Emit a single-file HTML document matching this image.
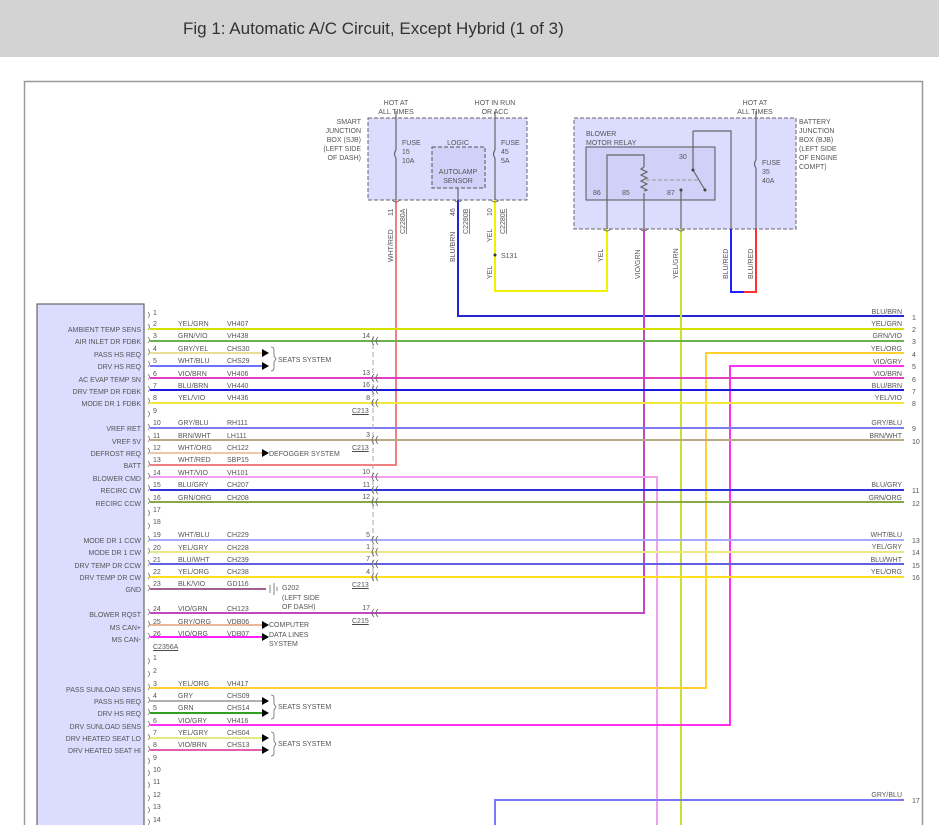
<!DOCTYPE html>
<html><head><meta charset="utf-8"><style>
html,body{margin:0;padding:0;background:#fff;width:939px;height:839px;overflow:hidden}
svg{display:block}
text{font-family:"Liberation Sans",sans-serif;font-size:7px;fill:#555}
.h{font-size:17px;fill:#333}
</style></head><body>
<svg width="939" height="839" viewBox="0 0 939 839" xmlns="http://www.w3.org/2000/svg">
<rect x="0" y="0" width="939" height="57" fill="#d3d3d3"/>
<text class="h" x="183" y="34">Fig 1: Automatic A/C Circuit, Except Hybrid (1 of 3)</text>
<path d="M24.5 825V81.5H922.5V825" fill="none" stroke="#999" stroke-width="1.5"/>
<rect x="37" y="304" width="107" height="540" fill="#dcdcff" stroke="#666" stroke-width="1.2"/>
<rect x="368" y="118" width="159" height="82" fill="#dcdcff" stroke="#666" stroke-dasharray="4,2"/>
<rect x="432" y="147" width="53" height="41" fill="#d0d0f8" stroke="#555" stroke-dasharray="4,2"/>
<rect x="574" y="118" width="222" height="111" fill="#dcdcff" stroke="#666" stroke-dasharray="4,2"/>
<rect x="586" y="147" width="129" height="53" fill="#d0d0f8" stroke="#555"/>
<g fill="none" stroke="#666" stroke-width="1.2">
<path d="M396 111V150M396 158V200"/><path d="M396 150q-3 4 0 8"/>
<path d="M458 188V200"/>
<path d="M495 111V150M495 158V200"/><path d="M495 150q-3 4 0 8"/>
<path d="M756 111V160M756 168V229"/><path d="M756 160q-3 4 0 8"/>
<path d="M607 200V155H644V167M644 193V200"/>
<path d="M644 167l-3 2 6 3-6 3 6 3-6 3 6 3-6 3 6 3-3 1"/>
<path d="M693 131H731V229"/><path d="M693 131V170l12 20"/>
<path d="M681 200V190"/>
<path d="M607 229V200M644 229V200M681 229V200"/>
</g>
<path d="M646 180H700" stroke="#999" stroke-dasharray="4,2"/>
<circle cx="693" cy="170" r="1.5" fill="#444"/><circle cx="705" cy="190" r="1.5" fill="#444"/><circle cx="681" cy="190" r="1.5" fill="#444"/>
<g fill="none" stroke-width="2">
<path d="M396 200V465H150" stroke="#f08080"/>
<path d="M458 200V316H904" stroke="#2424d0"/>
<path d="M495 200V291H607V229" stroke="#f0f000"/>
<path d="M644 229V613H150" stroke="#c048c0"/>
<path d="M681 229V825" stroke="#c8e030"/>
<path d="M731 229V292H744" stroke="#2020ff"/>
<path d="M756 229V292H744" stroke="#ff3030"/>
<path d="M150 477H657V825" stroke="#f4a0f0"/>
<path d="M904 353H706V688H150" stroke="#ffd030"/>
<path d="M904 366H730V725H150" stroke="#ff30f0"/>
<path d="M904 800H495V825" stroke="#7878f8"/>
<path d="M150 329H904" stroke="#d4e000"/>
<path d="M150 341H904" stroke="#6cb050"/>
<path d="M150 353H262" stroke="#e8e098"/>
<path d="M150 366H262" stroke="#7070ff"/>
<path d="M150 378H904" stroke="#e040c0"/>
<path d="M150 390H904" stroke="#1818e0"/>
<path d="M150 403H904" stroke="#f4e840"/>
<path d="M150 428H904" stroke="#7c7cf0"/>
<path d="M150 440H904" stroke="#b8a888"/>
<path d="M150 453H262" stroke="#f0c8a8"/>
<path d="M150 490H904" stroke="#3030e0"/>
<path d="M150 502H904" stroke="#88a848"/>
<path d="M150 540H904" stroke="#a8a8ff"/>
<path d="M150 552H904" stroke="#e8e888"/>
<path d="M150 564H904" stroke="#6060e0"/>
<path d="M150 577H904" stroke="#ffe020"/>
<path d="M150 589H266" stroke="#a06090"/>
<path d="M150 625H262" stroke="#e8b898"/>
<path d="M150 637H262" stroke="#ff20ff"/>
<path d="M150 701H262" stroke="#b0b0b0"/>
<path d="M150 713H262" stroke="#30a020"/>
<path d="M150 738H262" stroke="#e8e880"/>
<path d="M150 750H262" stroke="#e060b0"/>
</g>
<path d="M373 336V584" stroke="#aaa" stroke-dasharray="5,3"/>
<g fill="none" stroke="#666" stroke-width="0.8">
<path d="M374 337q-4 4 0 8M378 337q-4 4 0 8"/>
<path d="M374 374q-4 4 0 8M378 374q-4 4 0 8"/>
<path d="M374 386q-4 4 0 8M378 386q-4 4 0 8"/>
<path d="M374 399q-4 4 0 8M378 399q-4 4 0 8"/>
<path d="M374 436q-4 4 0 8M378 436q-4 4 0 8"/>
<path d="M374 473q-4 4 0 8M378 473q-4 4 0 8"/>
<path d="M374 486q-4 4 0 8M378 486q-4 4 0 8"/>
<path d="M374 498q-4 4 0 8M378 498q-4 4 0 8"/>
<path d="M374 536q-4 4 0 8M378 536q-4 4 0 8"/>
<path d="M374 548q-4 4 0 8M378 548q-4 4 0 8"/>
<path d="M374 560q-4 4 0 8M378 560q-4 4 0 8"/>
<path d="M374 573q-4 4 0 8M378 573q-4 4 0 8"/>
<path d="M374 609q-4 4 0 8M378 609q-4 4 0 8"/>
<path d="M392 200q4 4 8 0M454 200q4 4 8 0M491 200q4 4 8 0M603 229q4 4 8 0M640 229q4 4 8 0M677 229q4 4 8 0"/>
<path d="M271 347q3 0 3 3v6l2 3-2 3v6q0 3-3 3"/>
<path d="M271 695q3 0 3 3v6l2 3-2 3v6q0 3-3 3"/>
<path d="M271 732q3 0 3 3v6l2 3-2 3v6q0 3-3 3"/>
<path d="M270 585v8M274 583v12M277 587v4"/>
</g>
<g fill="none" stroke="#777" stroke-width="0.8">
<path d="M148 312q3 3 0 6M148 324q3 3 0 6M148 337q3 3 0 6M148 349q3 3 0 6M148 361q3 3 0 6M148 374q3 3 0 6M148 386q3 3 0 6M148 398q3 3 0 6M148 411q3 3 0 6M148 424q3 3 0 6M148 436q3 3 0 6M148 448q3 3 0 6M148 461q3 3 0 6M148 473q3 3 0 6M148 485q3 3 0 6M148 498q3 3 0 6M148 510q3 3 0 6M148 523q3 3 0 6M148 536q3 3 0 6M148 548q3 3 0 6M148 560q3 3 0 6M148 573q3 3 0 6M148 585q3 3 0 6M148 609q3 3 0 6M148 621q3 3 0 6M148 633q3 3 0 6"/>
<path d="M148 658q3 3 0 6M148 671q3 3 0 6M148 684q3 3 0 6M148 697q3 3 0 6M148 709q3 3 0 6M148 721q3 3 0 6M148 734q3 3 0 6M148 746q3 3 0 6M148 758q3 3 0 6M148 770q3 3 0 6M148 782q3 3 0 6M148 795q3 3 0 6M148 807q3 3 0 6M148 819q3 3 0 6"/>
</g>
<g fill="#000">
<path d="M262 349l7 4-7 4zM262 362l7 4-7 4zM262 449l7 4-7 4zM262 621l7 4-7 4zM262 633l7 4-7 4zM262 697l7 4-7 4zM262 709l7 4-7 4zM262 734l7 4-7 4zM262 746l7 4-7 4z"/>
</g>
<circle cx="495" cy="255" r="1.5" fill="#333"/>
<g text-anchor="middle">
<text x="396" y="105">HOT AT</text><text x="396" y="114">ALL TIMES</text>
<text x="495" y="105">HOT IN RUN</text><text x="495" y="114">OR ACC</text>
<text x="755" y="105">HOT AT</text><text x="755" y="114">ALL TIMES</text>
<text x="458" y="145" fill="#3355aa">LOGIC</text>
<text x="458" y="174">AUTOLAMP</text><text x="458" y="183">SENSOR</text>
</g>
<g text-anchor="end">
<text x="361" y="124">SMART</text><text x="361" y="133">JUNCTION</text><text x="361" y="142">BOX (SJB)</text><text x="361" y="151">(LEFT SIDE</text><text x="361" y="160">OF DASH)</text>
</g>
<text x="402" y="145">FUSE</text><text x="402" y="154">15</text><text x="402" y="163">10A</text>
<text x="501" y="145">FUSE</text><text x="501" y="154">45</text><text x="501" y="163">5A</text>
<text x="762" y="165">FUSE</text><text x="762" y="174">35</text><text x="762" y="183">40A</text>
<text x="799" y="124">BATTERY</text><text x="799" y="133">JUNCTION</text><text x="799" y="142">BOX (BJB)</text><text x="799" y="151">(LEFT SIDE</text><text x="799" y="160">OF ENGINE</text><text x="799" y="169">COMPT)</text>
<text x="586" y="136">BLOWER</text><text x="586" y="145">MOTOR RELAY</text>
<text x="679" y="159">30</text><text x="593" y="195">86</text><text x="622" y="195">85</text><text x="667" y="195">87</text>
<text x="501" y="258">S131</text>
<g>
<text transform="translate(393,216) rotate(-90)">11</text>
<text transform="translate(405,234) rotate(-90)" text-decoration="underline">C2280A</text>
<text transform="translate(393,262) rotate(-90)">WHT/RED</text>
<text transform="translate(455,216) rotate(-90)">46</text>
<text transform="translate(468,234) rotate(-90)" text-decoration="underline">C2280B</text>
<text transform="translate(455,262) rotate(-90)">BLU/BRN</text>
<text transform="translate(492,216) rotate(-90)">10</text>
<text transform="translate(505,234) rotate(-90)" text-decoration="underline">C2280E</text>
<text transform="translate(492,242) rotate(-90)">YEL</text>
<text transform="translate(492,279) rotate(-90)">YEL</text>
<text transform="translate(603,262) rotate(-90)">YEL</text>
<text transform="translate(640,279) rotate(-90)">VIO/GRN</text>
<text transform="translate(678,279) rotate(-90)">YEL/GRN</text>
<text transform="translate(728,279) rotate(-90)">BLU/RED</text>
<text transform="translate(753,279) rotate(-90)">BLU/RED</text>
</g>
<g text-anchor="end">
<text x="141" y="332">AMBIENT TEMP SENS</text><text x="141" y="344">AIR INLET DR FDBK</text><text x="141" y="357">PASS HS REQ</text><text x="141" y="369">DRV HS REQ</text><text x="141" y="382">AC EVAP TEMP SN</text><text x="141" y="394">DRV TEMP DR FDBK</text><text x="141" y="406">MODE DR 1 FDBK</text><text x="141" y="431">VREF RET</text><text x="141" y="444">VREF 5V</text><text x="141" y="456">DEFROST REQ</text><text x="141" y="468">BATT</text><text x="141" y="481">BLOWER CMD</text><text x="141" y="493">RECIRC CW</text><text x="141" y="506">RECIRC CCW</text><text x="141" y="543">MODE DR 1 CCW</text><text x="141" y="555">MODE DR 1 CW</text><text x="141" y="568">DRV TEMP DR CCW</text><text x="141" y="580">DRV TEMP DR CW</text><text x="141" y="592">GND</text><text x="141" y="617">BLOWER RQST</text><text x="141" y="630">MS CAN+</text><text x="141" y="642">MS CAN-</text>
<text x="141" y="692">PASS SUNLOAD SENS</text><text x="141" y="704">PASS HS REQ</text><text x="141" y="716">DRV HS REQ</text><text x="141" y="729">DRV SUNLOAD SENS</text><text x="141" y="741">DRV HEATED SEAT LO</text><text x="141" y="753">DRV HEATED SEAT HI</text>
<text x="370" y="338">14</text><text x="370" y="375">13</text><text x="370" y="387">16</text><text x="370" y="400">8</text><text x="370" y="437">3</text><text x="370" y="474">10</text><text x="370" y="487">11</text><text x="370" y="499">12</text><text x="370" y="537">5</text><text x="370" y="549">1</text><text x="370" y="561">7</text><text x="370" y="574">4</text><text x="370" y="610">17</text>
<text x="902" y="314">BLU/BRN</text><text x="902" y="326">YEL/GRN</text><text x="902" y="338">GRN/VIO</text><text x="902" y="351">YEL/ORG</text><text x="902" y="364">VIO/GRY</text><text x="902" y="376">VIO/BRN</text><text x="902" y="388">BLU/BRN</text><text x="902" y="400">YEL/VIO</text><text x="902" y="425">GRY/BLU</text><text x="902" y="438">BRN/WHT</text><text x="902" y="487">BLU/GRY</text><text x="902" y="500">GRN/ORG</text><text x="902" y="537">WHT/BLU</text><text x="902" y="549">YEL/GRY</text><text x="902" y="562">BLU/WHT</text><text x="902" y="574">YEL/ORG</text><text x="902" y="797">GRY/BLU</text>
</g>
<g>
<text x="912" y="320">1</text><text x="912" y="332">2</text><text x="912" y="344">3</text><text x="912" y="357">4</text><text x="912" y="369">5</text><text x="912" y="382">6</text><text x="912" y="394">7</text><text x="912" y="406">8</text><text x="912" y="431">9</text><text x="912" y="444">10</text><text x="912" y="493">11</text><text x="912" y="506">12</text><text x="912" y="543">13</text><text x="912" y="555">14</text><text x="912" y="568">15</text><text x="912" y="580">16</text><text x="912" y="803">17</text>
</g>
<g text-decoration="underline">
<text x="352" y="413">C213</text><text x="352" y="450">C213</text><text x="352" y="587">C213</text><text x="352" y="623">C215</text><text x="153" y="649">C2356A</text>
</g>
<g>
<text x="153" y="315">1</text>
<text x="153" y="326">2</text><text x="178" y="326">YEL/GRN</text><text x="227" y="326">VH407</text>
<text x="153" y="338">3</text><text x="178" y="338">GRN/VIO</text><text x="227" y="338">VH438</text>
<text x="153" y="351">4</text><text x="178" y="351">GRY/YEL</text><text x="227" y="351">CHS30</text>
<text x="153" y="363">5</text><text x="178" y="363">WHT/BLU</text><text x="227" y="363">CHS29</text>
<text x="153" y="376">6</text><text x="178" y="376">VIO/BRN</text><text x="227" y="376">VH406</text>
<text x="153" y="388">7</text><text x="178" y="388">BLU/BRN</text><text x="227" y="388">VH440</text>
<text x="153" y="400">8</text><text x="178" y="400">YEL/VIO</text><text x="227" y="400">VH436</text>
<text x="153" y="413">9</text>
<text x="153" y="425">10</text><text x="178" y="425">GRY/BLU</text><text x="227" y="425">RH111</text>
<text x="153" y="438">11</text><text x="178" y="438">BRN/WHT</text><text x="227" y="438">LH111</text>
<text x="153" y="450">12</text><text x="178" y="450">WHT/ORG</text><text x="227" y="450">CH122</text>
<text x="153" y="462">13</text><text x="178" y="462">WHT/RED</text><text x="227" y="462">SBP15</text>
<text x="153" y="475">14</text><text x="178" y="475">WHT/VIO</text><text x="227" y="475">VH101</text>
<text x="153" y="487">15</text><text x="178" y="487">BLU/GRY</text><text x="227" y="487">CH207</text>
<text x="153" y="500">16</text><text x="178" y="500">GRN/ORG</text><text x="227" y="500">CH208</text>
<text x="153" y="512">17</text><text x="153" y="524">18</text>
<text x="153" y="537">19</text><text x="178" y="537">WHT/BLU</text><text x="227" y="537">CH229</text>
<text x="153" y="550">20</text><text x="178" y="550">YEL/GRY</text><text x="227" y="550">CH228</text>
<text x="153" y="562">21</text><text x="178" y="562">BLU/WHT</text><text x="227" y="562">CH239</text>
<text x="153" y="574">22</text><text x="178" y="574">YEL/ORG</text><text x="227" y="574">CH238</text>
<text x="153" y="586">23</text><text x="178" y="586">BLK/VIO</text><text x="227" y="586">GD116</text>
<text x="153" y="611">24</text><text x="178" y="611">VIO/GRN</text><text x="227" y="611">CH123</text>
<text x="153" y="624">25</text><text x="178" y="624">GRY/ORG</text><text x="227" y="624">VDB06</text>
<text x="153" y="636">26</text><text x="178" y="636">VIO/ORG</text><text x="227" y="636">VDB07</text>
<text x="153" y="660">1</text><text x="153" y="673">2</text>
<text x="153" y="686">3</text><text x="178" y="686">YEL/ORG</text><text x="227" y="686">VH417</text>
<text x="153" y="698">4</text><text x="178" y="698">GRY</text><text x="227" y="698">CHS09</text>
<text x="153" y="710">5</text><text x="178" y="710">GRN</text><text x="227" y="710">CHS14</text>
<text x="153" y="723">6</text><text x="178" y="723">VIO/GRY</text><text x="227" y="723">VH416</text>
<text x="153" y="735">7</text><text x="178" y="735">YEL/GRY</text><text x="227" y="735">CHS04</text>
<text x="153" y="747">8</text><text x="178" y="747">VIO/BRN</text><text x="227" y="747">CHS13</text>
<text x="153" y="760">9</text><text x="153" y="772">10</text><text x="153" y="784">11</text><text x="153" y="797">12</text><text x="153" y="809">13</text><text x="153" y="822">14</text>
</g>
<text x="278" y="362">SEATS SYSTEM</text>
<text x="269" y="456">DEFOGGER SYSTEM</text>
<text x="282" y="590">G202</text><text x="282" y="600">(LEFT SIDE</text><text x="282" y="609">OF DASH)</text>
<text x="269" y="627">COMPUTER</text><text x="269" y="637">DATA LINES</text><text x="269" y="646">SYSTEM</text>
<text x="278" y="709">SEATS SYSTEM</text>
<text x="278" y="746">SEATS SYSTEM</text>
<rect x="0" y="825" width="939" height="14" fill="#fff"/>
</svg>
</body></html>
